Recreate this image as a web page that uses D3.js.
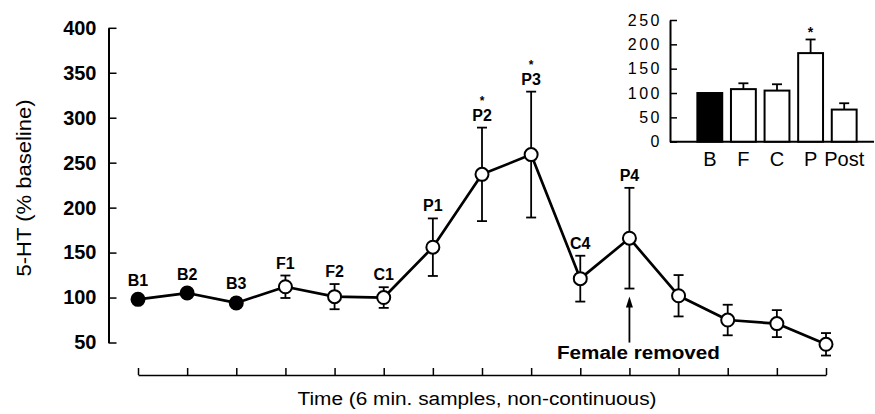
<!DOCTYPE html>
<html><head><meta charset="utf-8">
<script src="https://cdn.jsdelivr.net/npm/d3@7"></script>
<style>
body{margin:0;background:#fff}
svg{display:block;background:#fff}
text{font-family:"Liberation Sans",Arial,Helvetica,sans-serif;fill:#000}
</style>
</head><body>
<svg id="c" width="875" height="414"></svg>
<script>
// ---- main series (time course, % baseline) ----
const sampleLabels = ["B1","B2","B3","F1","F2","C1","P1","P2","P3","C4","P4","","","",""];
const values       = [98, 105, 94, 112, 101, 100, 156, 237, 259, 121, 166, 102, 75, 71, 48];
const errors       = [0, 5, 5, 12.5, 14, 11.5, 32, 52, 70, 25.5, 56, 23, 17, 15, 12.5];
const filledLabels = ["B1","B2","B3"];
const starredLabels = ["P2","P3"];
const annotationLabel = "P4";
const annotationText = "Female removed";
const yTicks = [50,100,150,200,250,300,350,400];
const yTitle = "5-HT (% baseline)";
const xTitle = "Time (6 min. samples, non-continuous)";

// ---- inset bars ----
const insetCats  = ["B","F","C","P","Post"];
const insetVals  = [100, 108, 105, 182, 66];
const insetErrs  = [0, 12, 13, 28, 13];
const insetFilled = ["B"];
const insetStarred = ["P"];
const insetTicks = [0,50,100,150,200,250];

const svg = d3.select("#c");
const idx = d3.range(values.length);

const x = d3.scalePoint().domain(idx).range([138, 826]);
const y = d3.scaleLinear().domain([50, 400]).range([342.5, 27.8]);

// Y axis
const ya = svg.append("g").attr("transform","translate(108.5,0)")
  .call(d3.axisLeft(y).tickValues(yTicks).tickSizeInner(-8).tickSizeOuter(0).tickPadding(12));
ya.select(".domain").attr("stroke-width", 2);
ya.selectAll(".tick line").attr("stroke-width", 1.5);
ya.selectAll(".tick text").attr("font-size", 20).attr("font-weight","bold");

// X axis (no labels, ticks pointing up)
const xa = svg.append("g").attr("transform","translate(0,375)")
  .call(d3.axisBottom(x).tickSizeInner(-7).tickSizeOuter(0).tickFormat(() => ""));
xa.select(".domain").attr("stroke-width", 1.5);
xa.selectAll(".tick line").attr("stroke-width", 1.5);

// Axis titles
svg.append("text")
  .attr("transform", "translate(31,188) rotate(-90)")
  .attr("text-anchor","middle")
  .attr("font-size", 20)
  .attr("textLength", 177).attr("lengthAdjust","spacingAndGlyphs")
  .text(yTitle);
svg.append("text")
  .attr("x", 477).attr("y", 405)
  .attr("text-anchor","middle")
  .attr("font-size", 18)
  .attr("textLength", 359).attr("lengthAdjust","spacingAndGlyphs")
  .text(xTitle);

// Line
svg.append("path").datum(values)
  .attr("fill","none").attr("stroke","#000").attr("stroke-width",2.7)
  .attr("stroke-linejoin","round")
  .attr("d", d3.line().x((d,i)=>x(i)).y(d=>y(d)));

// Error bars
const eb = svg.append("g").attr("stroke","#000").attr("stroke-width",1.8);
idx.filter(i => errors[i] > 0).forEach(i => {
  const cx = x(i), y1 = y(values[i]-errors[i]), y2 = y(values[i]+errors[i]);
  eb.append("line").attr("x1",cx).attr("x2",cx).attr("y1",y1).attr("y2",y2);
  eb.append("line").attr("x1",cx-5).attr("x2",cx+5).attr("y1",y1).attr("y2",y1);
  eb.append("line").attr("x1",cx-5).attr("x2",cx+5).attr("y1",y2).attr("y2",y2);
});

// Markers
const R = 6.5;
svg.append("g").selectAll("circle").data(idx).join("circle")
  .attr("cx", i => x(i)).attr("cy", i => y(values[i])).attr("r", R)
  .attr("fill", i => filledLabels.includes(sampleLabels[i]) ? "#000" : "#fff")
  .attr("stroke","#000").attr("stroke-width",2);

// Point labels and stars
const labelBase = i => Math.min(y(values[i]) - R, y(values[i] + errors[i])) - 7;
svg.append("g").selectAll("text").data(idx.filter(i => sampleLabels[i])).join("text")
  .attr("x", i => x(i)).attr("y", labelBase)
  .attr("text-anchor","middle").attr("font-size",16).attr("font-weight","bold")
  .text(i => sampleLabels[i]);
svg.append("g").selectAll("text").data(idx.filter(i => starredLabels.includes(sampleLabels[i]))).join("text")
  .attr("x", i => x(i)).attr("y", i => labelBase(i) - 16)
  .attr("text-anchor","middle").attr("font-size",12).attr("font-weight","bold")
  .text("*");

// Annotation arrow
const ai = sampleLabels.indexOf(annotationLabel);
const ax = x(ai);
const tip = y(values[ai] - errors[ai]) + 8;
svg.append("line").attr("x1",ax).attr("x2",ax).attr("y1",tip+8).attr("y2",tip+46)
  .attr("stroke","#000").attr("stroke-width",1.8);
svg.append("path")
  .attr("d", `M${ax},${tip} L${ax-3.5},${tip+11} L${ax+3.5},${tip+11} Z`)
  .attr("fill","#000");
svg.append("text").attr("x", ax+9).attr("y", tip+62)
  .attr("text-anchor","middle").attr("font-size",18).attr("font-weight","bold")
  .attr("textLength",163).attr("lengthAdjust","spacingAndGlyphs")
  .text(annotationText);

// ---- Inset ----
const xb = d3.scaleBand().domain(insetCats).range([693, 861]).paddingInner(0.26).paddingOuter(0.13);
const yb = d3.scaleLinear().domain([0, 250]).range([141.7, 20]);

const iya = svg.append("g").attr("transform","translate(670,0)")
  .call(d3.axisLeft(yb).tickValues(insetTicks).tickSizeInner(-7).tickSizeOuter(0).tickPadding(8));
iya.select(".domain").attr("stroke-width", 2);
iya.selectAll(".tick line").attr("stroke-width", 1.5);
iya.selectAll(".tick text").attr("font-size", 16).attr("letter-spacing","2.5px");

svg.append("line").attr("x1",670).attr("x2",874).attr("y1",yb(0)).attr("y2",yb(0))
  .attr("stroke","#000").attr("stroke-width",2);

svg.append("g").selectAll("rect").data(insetCats).join("rect")
  .attr("x", c => xb(c)).attr("width", xb.bandwidth())
  .attr("y", (c,i) => yb(insetVals[i])).attr("height", (c,i) => yb(0) - yb(insetVals[i]))
  .attr("fill", c => insetFilled.includes(c) ? "#000" : "#fff")
  .attr("stroke","#000").attr("stroke-width",2);

const ieb = svg.append("g").attr("stroke","#000").attr("stroke-width",1.8);
insetCats.forEach((c,i) => {
  if (insetErrs[i] <= 0) return;
  const cx = xb(c) + xb.bandwidth()/2, y1 = yb(insetVals[i]), y2 = yb(insetVals[i]+insetErrs[i]);
  ieb.append("line").attr("x1",cx).attr("x2",cx).attr("y1",y1).attr("y2",y2);
  ieb.append("line").attr("x1",cx-5).attr("x2",cx+5).attr("y1",y2).attr("y2",y2);
});
insetCats.forEach((c,i) => {
  if (!insetStarred.includes(c)) return;
  svg.append("text").attr("x", xb(c)+xb.bandwidth()/2).attr("y", yb(insetVals[i]+insetErrs[i]) - 2)
    .attr("text-anchor","middle").attr("font-size",14).attr("font-weight","bold").text("*");
});
svg.append("g").selectAll("text").data(insetCats).join("text")
  .attr("x", c => xb(c)+xb.bandwidth()/2).attr("y", yb(0)+24)
  .attr("text-anchor","middle").attr("font-size",20)
  .text(c => c);
</script>
</body></html>
